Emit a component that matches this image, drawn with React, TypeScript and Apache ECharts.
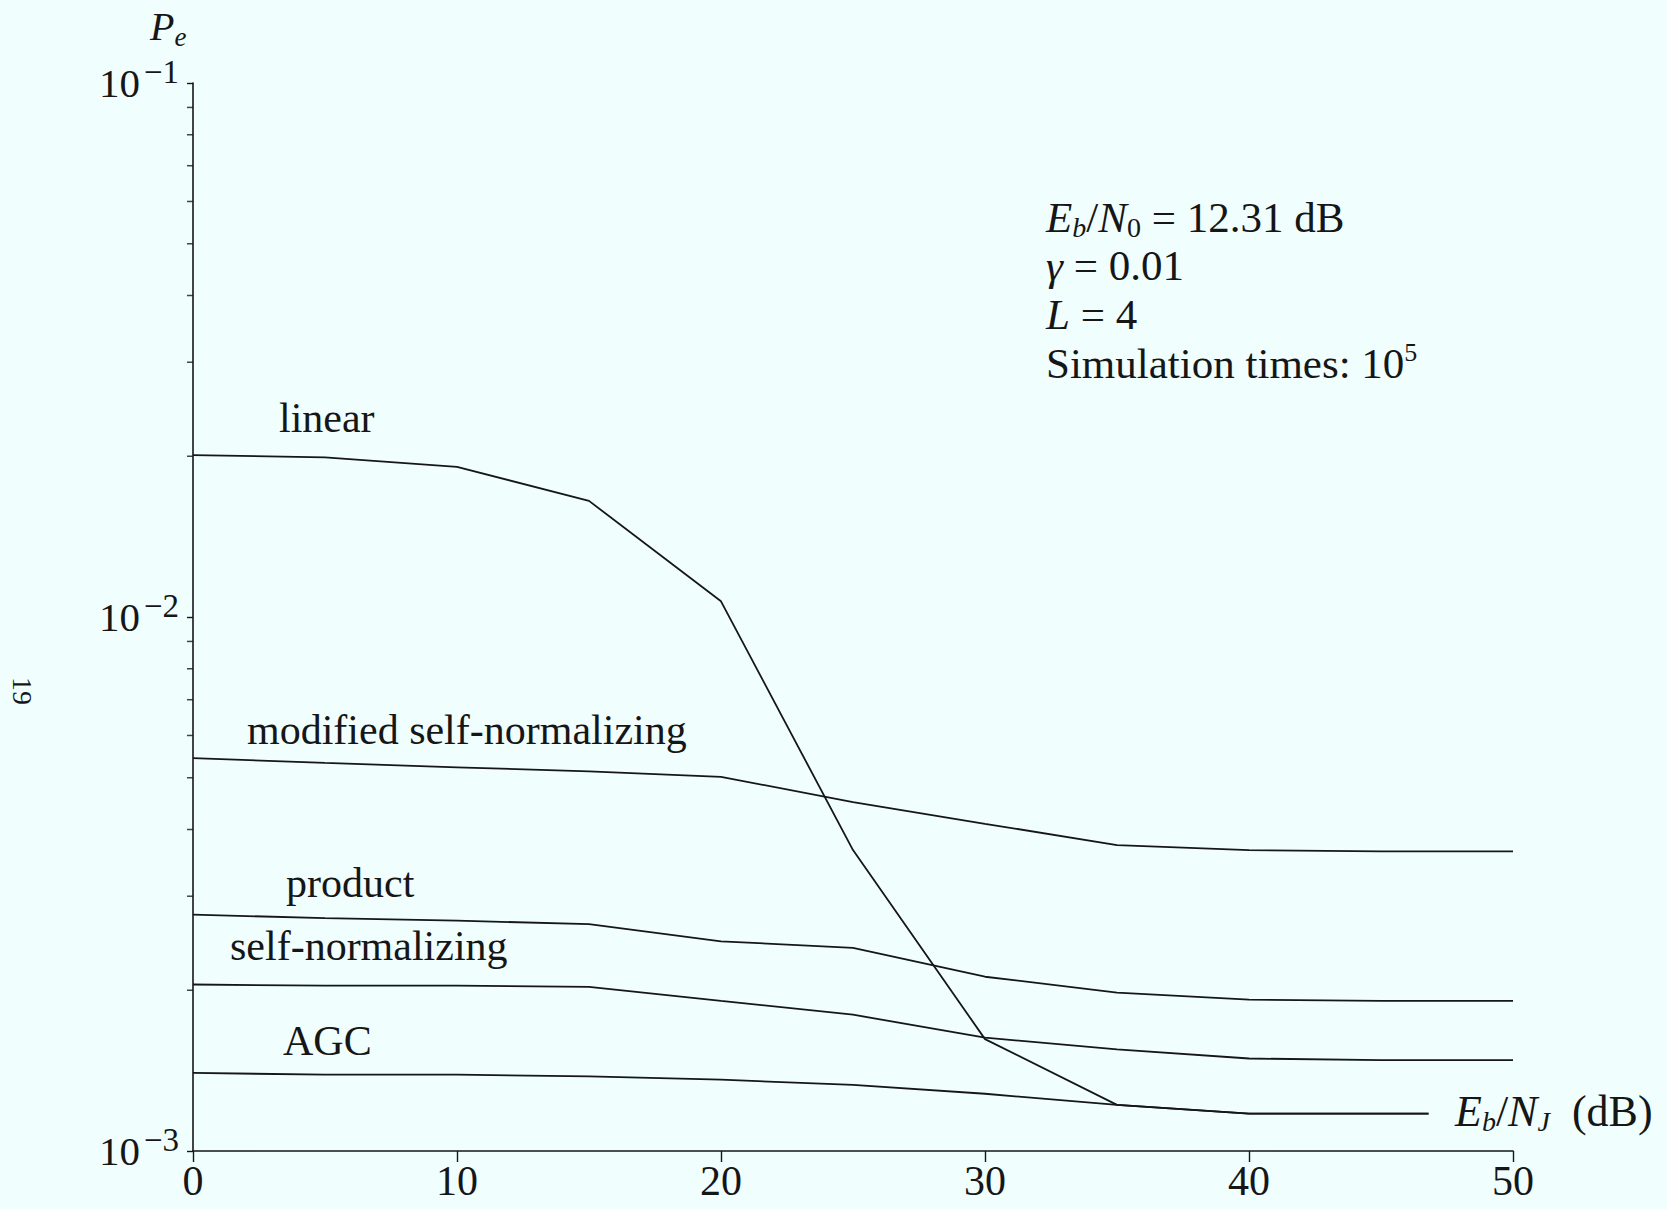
import React, { useEffect, useRef } from "react";
import * as echarts from "echarts";

const FONT = '"Liberation Serif", "Times New Roman", serif';
const INK = "#161616";
const PAPER = "#f0fefe";

// Eb/NJ (dB)
const xFull = [0, 5, 10, 15, 20, 25, 30, 35, 40, 45, 50];
const xShort = [0, 5, 10, 15, 20, 25, 30, 35, 40, 45, 46.8];

// Pe values
const linear = [0.0201, 0.0199, 0.0191, 0.0165, 0.0107, 0.00366, 0.00162, 0.00122, 0.001175, 0.001175, 0.001175];
const modifiedSelfNormalizing = [0.00544, 0.00533, 0.00523, 0.00514, 0.00502, 0.0045, 0.0041, 0.00374, 0.00366, 0.00364, 0.00364];
const product = [0.00277, 0.00273, 0.0027, 0.00266, 0.00247, 0.0024, 0.00212, 0.00198, 0.00192, 0.00191, 0.00191];
const selfNormalizing = [0.00205, 0.00204, 0.00204, 0.00203, 0.00191, 0.0018, 0.00163, 0.00155, 0.00149, 0.00148, 0.00148];
const agc = [0.0014, 0.00139, 0.00139, 0.00138, 0.00136, 0.00133, 0.00128, 0.00122, 0.001175, 0.001175, 0.001175];

const seriesNames = ["linear", "modified self-normalizing", "product", "self-normalizing", "AGC"];

const yMinorTicks = [
  0.002, 0.003, 0.004, 0.005, 0.006, 0.007, 0.008, 0.009,
  0.02, 0.03, 0.04, 0.05, 0.06, 0.07, 0.08, 0.09,
];

const annotationLines = [
  "{i|E}{sub|b}{n|/}{i|N}{subu|0}{n| = 12.31 dB}",
  "{i|γ}{n| = 0.01}",
  "{i|L}{n| = 4}",
  "{n|Simulation times: 10}{sup|5}",
];

export default function App() {
  const ref = useRef<HTMLDivElement>(null);

  useEffect(() => {
    const chart = echarts.init(ref.current as HTMLDivElement, null, { renderer: "svg" });

    const pair = (xs: number[], ys: number[]) => xs.map((x, i) => [x, ys[i]]);
    const lineSeries = (name: string, xs: number[], ys: number[]) => ({
      name,
      type: "line",
      data: pair(xs, ys),
      symbol: "none",
      showSymbol: false,
      silent: true,
      lineStyle: { color: INK, width: 1.8 },
      itemStyle: { color: INK },
      z: 3,
    });

    const tok = (size: number, italic: boolean, extra: any = {}) => ({
      fontFamily: FONT,
      fontSize: size,
      fontStyle: italic ? "italic" : "normal",
      fill: INK,
      lineHeight: 48,
      verticalAlign: "middle",
      ...extra,
    });
    const richText = {
      n: tok(43, false),
      i: tok(43, true),
      sub: tok(28, true, { lineHeight: 27, verticalAlign: "bottom" }),
      subu: tok(28, false, { lineHeight: 27, verticalAlign: "bottom" }),
      sup: tok(26, false, { lineHeight: 32, verticalAlign: "top" }),
    };

    const textEl = (text: string, x: number, y: number, extra: any = {}) => ({
      type: "text",
      x,
      y,
      silent: true,
      style: {
        text,
        fill: INK,
        fontFamily: FONT,
        fontSize: 42,
        align: "left",
        verticalAlign: "middle",
        ...extra,
      },
    });

    const annYs = [217, 265, 314.5, 363.5];
    const labelPos = [
      [279, 417.5],
      [247, 729.5],
      [286, 882.5],
      [230, 945.5],
      [283, 1040.5],
    ];

    chart.setOption({
      animation: false,
      backgroundColor: PAPER,
      grid: { left: 193, right: 154, top: 83, bottom: 58, outerBoundsMode: "none" },
      xAxis: {
        type: "value",
        min: 0,
        max: 50,
        interval: 10,
        axisLine: { show: true, onZero: false, lineStyle: { color: INK, width: 1.6 } },
        axisTick: { show: true, inside: false, length: 11, lineStyle: { color: INK, width: 1.4 } },
        axisLabel: { fontFamily: FONT, fontSize: 42, color: INK, margin: 9 },
        splitLine: { show: false },
      },
      yAxis: {
        type: "log",
        logBase: 10,
        min: 0.001,
        max: 0.1,
        axisLine: { show: true, lineStyle: { color: INK, width: 1.6 } },
        axisTick: { show: true, inside: false, length: 6, lineStyle: { color: INK, width: 1.4 } },
        axisLabel: {
          margin: 14,
          formatter: (v: number) => `{b|10}{s|−${Math.abs(Math.round(Math.log10(v)))}}`,
          rich: {
            b: { fontFamily: FONT, fontSize: 41, lineHeight: 44, color: INK },
            s: { fontFamily: FONT, fontSize: 33, lineHeight: 22, color: INK, padding: [0, 0, 22, 4] },
          },
        },
        splitLine: { show: false },
      },
      series: [
        lineSeries(seriesNames[0], xShort, linear),
        lineSeries(seriesNames[1], xFull, modifiedSelfNormalizing),
        lineSeries(seriesNames[2], xFull, product),
        lineSeries(seriesNames[3], xFull, selfNormalizing),
        lineSeries(seriesNames[4], xShort, agc),
        {
          name: "minor ticks",
          type: "scatter",
          data: yMinorTicks.map((v) => [0, v]),
          symbol: "rect",
          symbolSize: [6, 1.5],
          symbolOffset: [-3, 0],
          itemStyle: { color: INK },
          clip: false,
          silent: true,
          z: 5,
        },
      ],
      graphic: [
        ...seriesNames.map((name, k) => textEl(name, labelPos[k][0], labelPos[k][1])),
        ...annotationLines.map((t, k) => textEl(t, 1046, annYs[k], { rich: richText })),
        textEl("{i|P}{sub|e}", 150, 26.5, {
          rich: {
            i: tok(40, true),
            sub: tok(27, true, { lineHeight: 33, verticalAlign: "bottom" }),
          },
        }),
        textEl("{i|E}{sub|b}{n|/}{i|N}{sub|J}{n|  (dB)}", 1455, 1111, {
          rich: {
            n: tok(44, false),
            i: tok(44, true),
            sub: tok(28, true, { lineHeight: 27, verticalAlign: "bottom" }),
          },
        }),
        {
          type: "text",
          x: 22,
          y: 691,
          rotation: -Math.PI / 2,
          silent: true,
          style: { text: "19", fill: INK, fontFamily: FONT, fontSize: 28, align: "center", verticalAlign: "middle" },
        },
      ],
    });

    return () => chart.dispose();
  }, []);

  return (
    <div
      ref={ref}
      style={{ position: "absolute", left: 0, top: 0, width: 1667, height: 1209, background: PAPER }}
    />
  );
}
